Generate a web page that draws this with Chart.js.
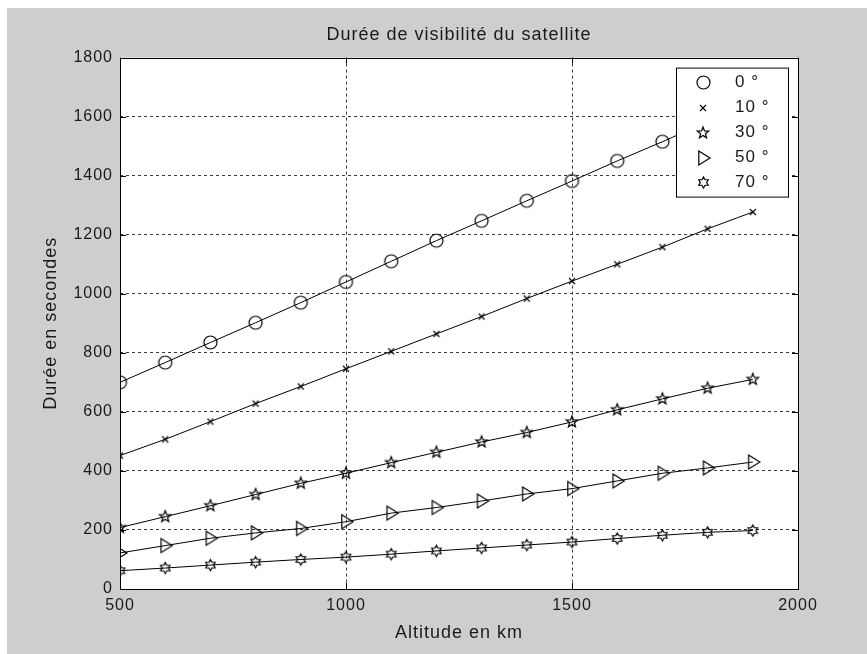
<!DOCTYPE html>
<html>
<head>
<meta charset="utf-8">
<script src="https://cdn.jsdelivr.net/npm/chart.js@4.4.0/dist/chart.umd.min.js"></script>
<style>
    html, body { margin: 0; padding: 0; background: #fff; }
    #wrap { position: absolute; left: 7px; top: 8px; width: 860px; height: 646px; }
</style>
</head>
<body>
<div id="wrap"><canvas id="visibilite" width="860" height="646"></canvas></div>
<script>
// Données
const altitudes = [500, 600, 700, 800, 900, 1000, 1100, 1200, 1300, 1400, 1500, 1600, 1700, 1800, 1900];
const duree0  = [700, 767, 835, 902, 970, 1040, 1110, 1180, 1247, 1315, 1382, 1450, 1515, 1583, 1650];
const duree10 = [452, 507, 567, 628, 686, 746, 805, 864, 923, 984, 1043, 1100, 1158, 1220, 1277];
const duree30 = [208, 245, 282, 320, 358, 392, 428, 463, 498, 530, 566, 607, 644, 680, 710];
const duree50 = [122, 147, 172, 190, 205, 228, 257, 276, 298, 322, 340, 366, 392, 410, 430];
const duree70 = [62, 71, 81, 91, 100, 108, 118, 129, 139, 149, 159, 171, 182, 192, 198];
const legendes = ['0 °', '10 °', '30 °', '50 °', '70 °'];
const yTicks = [0, 200, 400, 600, 800, 1000, 1200, 1400, 1600, 1800];
const xTicks = [500, 1000, 1500, 2000];

const police = '"Liberation Sans", Arial, sans-serif';
const encre = '#1a1a1a';

// dessin des marqueurs façon Matlab
function marqueur(type, r) {
    const s = Math.ceil(r * 2 + 4);
    const cv = document.createElement('canvas');
    cv.width = s; cv.height = s;
    const g = cv.getContext('2d');
    const c = s / 2;
    g.strokeStyle = '#000';
    g.lineWidth = 1.2;
    g.beginPath();
    if (type === 'rond') {
        g.arc(c, c, r, 0, Math.PI * 2);
    } else if (type === 'croix') {
        g.moveTo(c - r, c - r); g.lineTo(c + r, c + r);
        g.moveTo(c + r, c - r); g.lineTo(c - r, c + r);
    } else if (type === 'triangle') {
        g.moveTo(c - r * 0.6, c - r);
        g.lineTo(c + r, c);
        g.lineTo(c - r * 0.6, c + r);
        g.closePath();
    } else {
        const n = type === 'penta' ? 5 : 6;
        const ri = type === 'penta' ? r * 0.42 : r * 0.58;
        for (let i = 0; i < n * 2; i++) {
            const a = -Math.PI / 2 + i * Math.PI / n;
            const rr = i % 2 === 0 ? r : ri;
            const px = c + rr * Math.cos(a), py = c + rr * Math.sin(a);
            i === 0 ? g.moveTo(px, py) : g.lineTo(px, py);
        }
        g.closePath();
    }
    g.stroke();
    return cv;
}

const styles = [marqueur('rond', 6.5), marqueur('croix', 3), marqueur('penta', 6), marqueur('triangle', 7), marqueur('hexa', 5.5)];
const series = [duree0, duree10, duree30, duree50, duree70];

const datasets = series.map((serie, i) => ({
    label: legendes[i],
    data: serie.map((v, k) => ({ x: altitudes[k], y: v })),
    borderColor: '#000',
    borderWidth: 1,
    pointStyle: styles[i],
    pointRadius: 6,
    tension: 0
}));

// texte un peu espacé, comme sur la figure d'origine
const espacer = chart => { chart.ctx.letterSpacing = '1px'; };

// fond gris, zone blanche, cadre, graduations internes et légende dans la zone
const decor = {
    id: 'decor',
    beforeUpdate: espacer,
    beforeLayout: espacer,
    beforeDraw(chart) {
        const { ctx, chartArea: a } = chart;
        espacer(chart);
        ctx.save();
        ctx.fillStyle = '#cecece';
        ctx.fillRect(0, 0, chart.width, chart.height);
        ctx.fillStyle = '#fff';
        ctx.fillRect(a.left, a.top, a.right - a.left, a.bottom - a.top);
        ctx.restore();
    },
    afterDatasetsDraw(chart) {
        const { ctx, chartArea: a } = chart;
        const w = 112, h = 129;
        const bx = a.right - 10 - w, by = a.top + 10;
        ctx.save();
        ctx.fillStyle = '#fff';
        ctx.fillRect(bx, by, w, h);
        ctx.strokeStyle = '#000';
        ctx.lineWidth = 1;
        ctx.strokeRect(bx + 0.5, by + 0.5, w, h);
        ctx.font = '17px ' + police;
        ctx.fillStyle = encre;
        ctx.textBaseline = 'middle';
        legendes.forEach((t, i) => {
            const y = by + 15 + i * 25;
            const m = styles[i];
            ctx.drawImage(m, Math.round(bx + 27 - m.width / 2), Math.round(y - m.height / 2));
            ctx.fillText(t, bx + 59, y);
        });
        ctx.restore();
    },
    afterDraw(chart) {
        const { ctx, chartArea: a, scales } = chart;
        ctx.save();
        ctx.strokeStyle = '#000';
        ctx.lineWidth = 1;
        ctx.strokeRect(Math.round(a.left) + 0.5, Math.round(a.top) + 0.5, Math.round(a.right - a.left), Math.round(a.bottom - a.top));
        ctx.beginPath();
        scales.x.ticks.forEach(t => {
            const px = Math.round(scales.x.getPixelForValue(t.value)) + 0.5;
            ctx.moveTo(px, a.bottom); ctx.lineTo(px, a.bottom - 6);
            ctx.moveTo(px, a.top); ctx.lineTo(px, a.top + 6);
        });
        scales.y.ticks.forEach(t => {
            const py = Math.round(scales.y.getPixelForValue(t.value)) + 0.5;
            ctx.moveTo(a.left, py); ctx.lineTo(a.left + 6, py);
            ctx.moveTo(a.right, py); ctx.lineTo(a.right - 6, py);
        });
        ctx.stroke();
        ctx.restore();
    }
};

const grille = (ctx) => ctx.tick && (ctx.index === 0 || ctx.index === ctx.scale.ticks.length - 1) ? 'rgba(0,0,0,0)' : '#3a3a3a';
const brut = v => String(v);

new Chart(document.getElementById('visibilite'), {
    type: 'line',
    data: { datasets: datasets },
    options: {
        responsive: false,
        animation: false,
        layout: { padding: { left: 13, right: 69, top: 0, bottom: 5 } },
        plugins: {
            legend: { display: false },
            tooltip: { enabled: false },
            title: {
                display: true,
                fullSize: false,
                text: 'Durée de visibilité du satellite',
                color: encre,
                font: { family: police, size: 18, weight: 'normal' },
                padding: { top: 16, bottom: 12 }
            }
        },
        scales: {
            x: {
                type: 'linear',
                min: 500,
                max: 2000,
                afterBuildTicks: s => { s.ticks = xTicks.map(v => ({ value: v })); },
                afterFit: s => { s.height = 60; },
                ticks: { color: encre, font: { family: police, size: 16 }, padding: 7, maxRotation: 0, callback: brut },
                grid: { color: grille, drawTicks: false, lineWidth: 1 },
                border: { display: false, dash: [3, 3] },
                title: { display: true, text: 'Altitude en km', color: encre, font: { family: police, size: 18 }, padding: { top: 0, bottom: 5 } }
            },
            y: {
                min: 0,
                max: 1800,
                afterBuildTicks: s => { s.ticks = yTicks.map(v => ({ value: v })); },
                afterFit: s => { s.width = 100; },
                ticks: { color: encre, font: { family: police, size: 16 }, padding: 7, callback: brut },
                grid: { color: grille, drawTicks: false, lineWidth: 1 },
                border: { display: false, dash: [3, 3] },
                title: { display: true, text: 'Durée en secondes', color: encre, font: { family: police, size: 18 }, padding: { top: 20, bottom: 0 } }
            }
        }
    },
    plugins: [decor]
});
</script>
</body>
</html>
